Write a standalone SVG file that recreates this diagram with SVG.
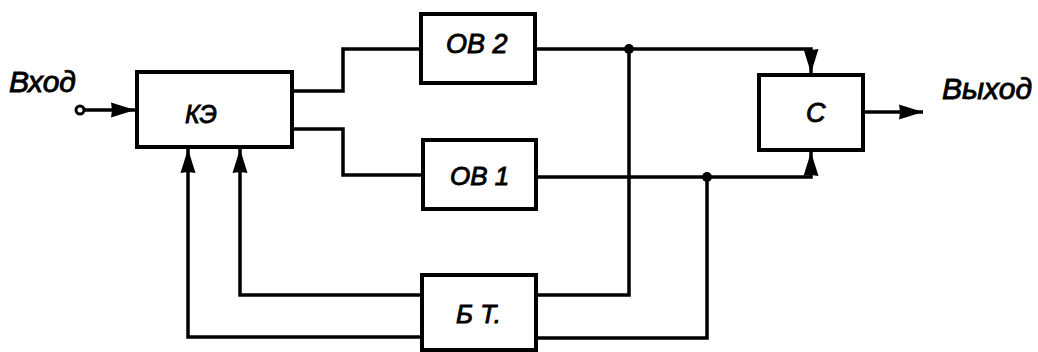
<svg xmlns="http://www.w3.org/2000/svg" width="1038" height="352" viewBox="0 0 1038 352">
<style>
.box{fill:#fff;stroke:#000;stroke-width:4}
.ln{fill:none;stroke:#000;stroke-width:3.5}
.t{font-family:"Liberation Sans",Arial,sans-serif;font-style:italic;fill:#000;stroke:#000;stroke-width:0.9}
</style>
<defs>
<marker id="ah" markerUnits="userSpaceOnUse" markerWidth="28" markerHeight="18" refX="24" refY="9" orient="auto" overflow="visible">
<path d="M0,1.5 L24,9 L0,16.5 L1,9 Z" fill="#000"/>
</marker>
</defs>
<rect width="1038" height="352" fill="#fff"/>
<g id="connectors">
<path class="ln" d="M84,110 H135" marker-end="url(#ah)"/>
<circle cx="80" cy="110" r="4" fill="#fff" stroke="#000" stroke-width="3"/>
<path class="ln" d="M292,91 H343 V49 H421"/>
<path class="ln" d="M292,129 H343 V175 H423"/>
<path class="ln" d="M535,49 H811 V73" marker-end="url(#ah)"/>
<path class="ln" d="M536,177 H811 V152" marker-end="url(#ah)"/>
<path class="ln" d="M629,49 V295 H537"/>
<path class="ln" d="M707,177 V338 H537"/>
<path class="ln" d="M422,295 H240 V149" marker-end="url(#ah)"/>
<path class="ln" d="M422,337 H188 V149" marker-end="url(#ah)"/>
<path class="ln" d="M863,112 H923" marker-end="url(#ah)"/>
<circle cx="629" cy="49" r="5" fill="#000"/>
<circle cx="707" cy="177" r="5" fill="#000"/>
</g>
<g id="input"><text class="t" x="9" y="92" font-size="30">Вход</text></g>
<g id="output"><text class="t" x="942" y="99" font-size="30">Выход</text></g>
<g id="KE"><rect class="box" x="137" y="72" width="155" height="75"/><text class="t" x="185" y="123" font-size="25">КЭ</text></g>
<g id="OV2"><rect class="box" x="421" y="14" width="114" height="69"/><text class="t" x="446" y="53" font-size="27">ОВ 2</text></g>
<g id="OV1"><rect class="box" x="423" y="140" width="113" height="69"/><text class="t" x="450" y="185" font-size="26">ОВ 1</text></g>
<g id="C"><rect class="box" x="759" y="75" width="104" height="75"/><text class="t" x="806" y="122" font-size="27">С</text></g>
<g id="BT"><rect class="box" x="422" y="275" width="114" height="75"/><text class="t" x="456" y="323" font-size="26">Б Т.</text></g>
</svg>
